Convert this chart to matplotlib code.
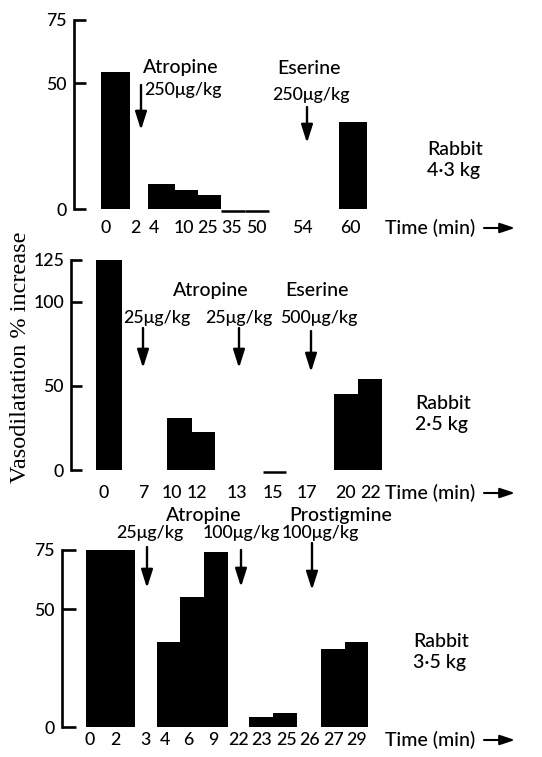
import numpy as np
import matplotlib
matplotlib.use("Agg")
import matplotlib.pyplot as plt

nan = np.nan

# ---------------- data ----------------
p1_times = ['0', '2', '4', '10', '25', '35', '50', '54', '60']
p1_vals = [54.5, nan, 10.0, 7.5, 5.5, 0.0, 0.0, nan, 34.5]
p1_yticks = [0, 50, 75]

p2_times = ['0', '7', '10', '12', '13', '15', '17', '20', '22']
p2_vals = [125.0, nan, 31.0, 22.5, nan, 0.0, nan, 45.0, 54.0]
p2_yticks = [0, 50, 100, 125]

p3_times = ['0', '2', '3', '4', '6', '9', '22', '23', '25', '26', '27', '29']
p3_vals = [75.0, 75.0, nan, 36.0, 55.0, 74.0, nan, 4.2, 6.0, nan, 33.0, 36.0]
p3_yticks = [0, 50, 75]

p1_drugs = ["Atropine", "Eserine"]
p1_doses = ["250\u03bcg/kg", "250\u03bcg/kg"]
p2_drugs = ["Atropine", "Eserine"]
p2_doses = ["25\u03bcg/kg", "25\u03bcg/kg", "500\u03bcg/kg"]
p3_drugs = ["Atropine", "Prostigmine"]
p3_doses = ["25\u03bcg/kg", "100\u03bcg/kg", "100\u03bcg/kg"]
animals = ["Rabbit\n4\u00b73 kg", "Rabbit\n2\u00b75 kg", "Rabbit\n3\u00b75 kg"]
xlabel = "Time (min)"
ylabel = "Vasodilatation % increase"

# ---------------- layout (pixels of the 542x757 canvas) ----------------
W, H = 542, 757
SANS = ['Lato', 'DejaVu Sans']
SERIF = ['Liberation Serif', 'DejaVu Serif']
FS_WORD = 14
FS_NUM = 12.8
WEIGHT = 'medium'

panels = [
    dict(times=p1_times, vals=p1_vals, yticks=p1_yticks,
         tick_x=[106, 135, 154, 184, 207, 232, 256, 302, 350],
         bar_left=[101, None, 148, 175, 198, 221, 245, None, 339],
         bar_w=[29, None, 27, 23, 23, 24, 24, None, 28],
         zero=209, top=20, spine_x=74, label_y=228, ybot=-4, ticklen=8.5),
    dict(times=p2_times, vals=p2_vals, yticks=p2_yticks,
         tick_x=[104, 143, 172, 197, 237, 273, 307, 345, 371],
         bar_left=[96, None, 167, 192, None, 263, None, 334, 358],
         bar_w=[26, None, 25, 23, None, 23, None, 24, 24],
         zero=470, top=260, spine_x=71, label_y=493, ybot=-3, ticklen=8),
    dict(times=p3_times, vals=p3_vals, yticks=p3_yticks,
         tick_x=[90, 115, 145, 165, 188, 213, 239, 262, 286, 309, 333, 356],
         bar_left=[86, 110, None, 157, 180, 204, None, 249, 273, None, 321, 345],
         bar_w=[24, 25, None, 23, 24, 24, None, 24, 24, None, 24, 23],
         zero=727, top=550, spine_x=62, label_y=740, ybot=-2, ticklen=10),
]

fig = plt.figure(figsize=(W / 100, H / 100), dpi=100)


def ff(px, py):
    return (px / W, 1 - py / H)


for p in panels:
    ymax = p['yticks'][-1]
    scale = (p['zero'] - p['top']) / ymax
    bot_px = p['zero'] - p['ybot'] * scale
    ax = fig.add_axes([0, 1 - bot_px / H, 1, (bot_px - p['top']) / H])
    ax.set_xlim(0, W)
    ax.set_ylim(p['ybot'], ymax)
    ax.patch.set_visible(False)
    for t, v, l, w in zip(p['times'], p['vals'], p['bar_left'], p['bar_w']):
        if l is None or np.isnan(v):
            continue
        if v > 0:
            ax.bar(l, v, width=w, align='edge', color='black', linewidth=0)
        else:
            ax.hlines(v - 2.0 / scale, l, l + w, color='black', lw=1.8)
    for s in ['top', 'right', 'bottom']:
        ax.spines[s].set_visible(False)
    ax.spines['left'].set_position(('data', p['spine_x']))
    ax.spines['left'].set_bounds(0, ymax)
    ax.spines['left'].set_linewidth(1.9)
    ax.set_yticks(p['yticks'])
    ax.set_yticklabels([str(v) for v in p['yticks']], fontsize=FS_NUM,
                       family=SANS, weight=WEIGHT)
    ax.tick_params(axis='y', direction='in', length=p['ticklen'], width=1.9, pad=5)
    ax.set_xticks(p['tick_x'])
    ax.set_xticklabels(p['times'], fontsize=FS_NUM, family=SANS, weight=WEIGHT)
    ax.tick_params(axis='x', length=0, pad=(p['label_y'] - 8 - bot_px) * 0.72)
    # Time (min) ->
    fig.text(*ff(385, p['label_y']), xlabel, fontsize=FS_WORD, family=SANS,
             weight=WEIGHT, ha='left', va='center')
    ax.annotate('', xy=ff(515, p['label_y']), xytext=ff(484, p['label_y']),
                xycoords='figure fraction', textcoords='figure fraction',
                arrowprops=dict(arrowstyle='-|>,head_length=0.9,head_width=0.3',
                                color='black', lw=1.5, shrinkA=0, shrinkB=0))


def down_arrow(x, y0, y1):
    fig.axes[0].annotate('', xy=ff(x, y1), xytext=ff(x, y0),
                         xycoords='figure fraction', textcoords='figure fraction',
                         arrowprops=dict(arrowstyle='-|>,head_length=1.1,head_width=0.35',
                                         color='black', lw=1.7, shrinkA=0, shrinkB=0))


def word(x, y, s):
    fig.text(*ff(x, y), s, fontsize=FS_WORD, family=SANS, weight=WEIGHT,
             ha='center', va='center')


def dose(x, y, s):
    fig.text(*ff(x, y), s, fontsize=FS_NUM, family=SANS, weight=WEIGHT,
             ha='center', va='center')


# panel 1 annotations
word(181, 68, p1_drugs[0]); dose(183, 90, p1_doses[0])
word(309, 68, p1_drugs[1]); dose(311, 95, p1_doses[1])
down_arrow(141, 85, 130)
down_arrow(307, 107, 143)
# panel 2 annotations
word(211, 290, p2_drugs[0]); word(317, 290, p2_drugs[1])
dose(157, 318, p2_doses[0]); dose(239, 318, p2_doses[1]); dose(319, 318, p2_doses[2])
down_arrow(143, 328, 368)
down_arrow(239, 328, 368)
down_arrow(311, 331, 372)
# panel 3 annotations
word(204, 515, p3_drugs[0]); word(341, 515, p3_drugs[1])
dose(150, 533, p3_doses[0]); dose(241, 533, p3_doses[1]); dose(320, 533, p3_doses[2])
down_arrow(147, 547, 588)
down_arrow(241, 550, 587)
down_arrow(312, 543, 590)

# animal labels
for (x, y), s in zip([(427, 160), (415, 414), (413, 652)], animals):
    fig.text(*ff(x, y), s, fontsize=FS_WORD, family=SANS, weight=WEIGHT,
             ha='left', va='center', linespacing=1.3)

fig.text(*ff(21, 357), ylabel, fontsize=17.5, family=SERIF, rotation=90,
         ha='center', va='center')

fig.savefig('out.png', dpi=100)
